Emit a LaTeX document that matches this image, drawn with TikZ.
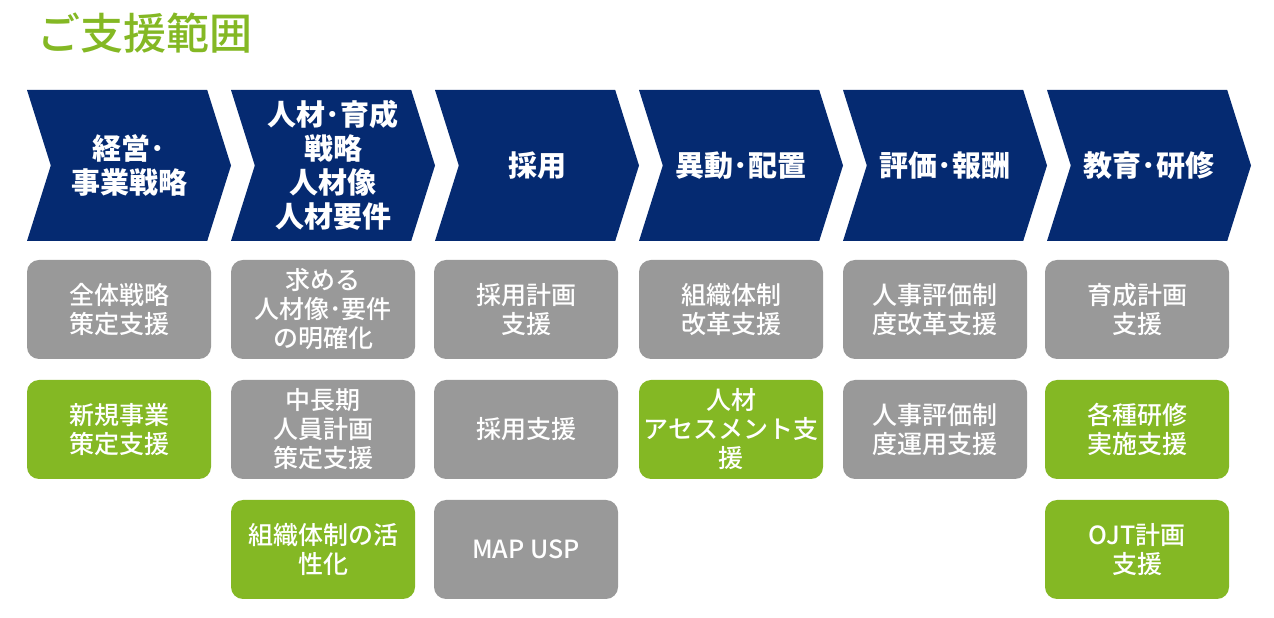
\documentclass[tikz,border=0pt]{standalone}
\usepackage{fontspec}
\setmainfont{Noto Sans CJK JP}
\newfontfamily\medfont{Noto Sans CJK JP Medium}
\usepackage{tikz}
\usetikzlibrary{shapes,arrows}
\definecolor{navy}{HTML}{052A71}
\definecolor{boxgray}{HTML}{999999}
\definecolor{leafgreen}{HTML}{84B824}
\tikzstyle{phasestyle} = [signal, signal from=west, signal to=east, signal pointer angle=145, fill=navy, text=white, font=\fontsize{29}{34}\selectfont\bfseries, align=center, minimum width=204pt, minimum height=151pt, inner sep=0pt, outer sep=0pt]
\tikzstyle{taskstyle} = [rectangle, rounded corners=12pt, fill=boxgray, text=white, font=\medfont\fontsize{25}{29}\selectfont, align=center, minimum width=184pt, minimum height=99pt, inner sep=0pt]
\tikzstyle{greenstyle} = [taskstyle, fill=leafgreen]

\begin{document}
\begin{tikzpicture}[x=1pt,y=1pt]
		\useasboundingbox (0,0) rectangle (1274,618);
		\node [anchor=west, text=leafgreen, font=\medfont\fontsize{43}{48}\selectfont] (title) at (34,585) {ご支援範囲};
		
		\node [phasestyle] (p1) at (129,452.5) {経営･\\事業戦略};
		\node [phasestyle] (p2) at (333,452.5) {人材･育成\\戦略\\人材像\\人材要件};
		\node [phasestyle] (p3) at (537,452.5) {採用};
		\node [phasestyle] (p4) at (741,452.5) {異動･配置};
		\node [phasestyle] (p5) at (945,452.5) {評価･報酬};
		\node [phasestyle] (p6) at (1149,452.5) {教育･研修};
		
		\node [taskstyle] (s1) at (119,308.5) {全体戦略\\策定支援};
		\node [greenstyle, below of=s1, node distance=120pt] (n1) {新規事業\\策定支援};
		
		\node [taskstyle] (s2) at (323,308.5) {求める\\人材像･要件\\の明確化};
		\node [taskstyle, below of=s2, node distance=120pt] (m2) {中長期\\人員計画\\策定支援};
		\node [greenstyle, below of=m2, node distance=120pt] (k2) {組織体制の活\\性化};
		
		\node [taskstyle] (s3) at (526,308.5) {採用計画\\支援};
		\node [taskstyle, below of=s3, node distance=120pt] (m3) {採用支援};
		\node [taskstyle, below of=m3, node distance=120pt] (k3) {MAP USP};
		
		\node [taskstyle] (s4) at (731,308.5) {組織体制\\改革支援};
		\node [greenstyle, below of=s4, node distance=120pt] (n4) {人材\\アセスメント支\\援};
		
		\node [taskstyle] (s5) at (935,308.5) {人事評価制\\度改革支援};
		\node [taskstyle, below of=s5, node distance=120pt] (m5) {人事評価制\\度運用支援};
		
		\node [taskstyle] (s6) at (1137,308.5) {育成計画\\支援};
		\node [greenstyle, below of=s6, node distance=120pt] (n6) {各種研修\\実施支援};
		\node [greenstyle, below of=n6, node distance=120pt] (k6) {OJT計画\\支援};
		
\end{tikzpicture}
\end{document}
